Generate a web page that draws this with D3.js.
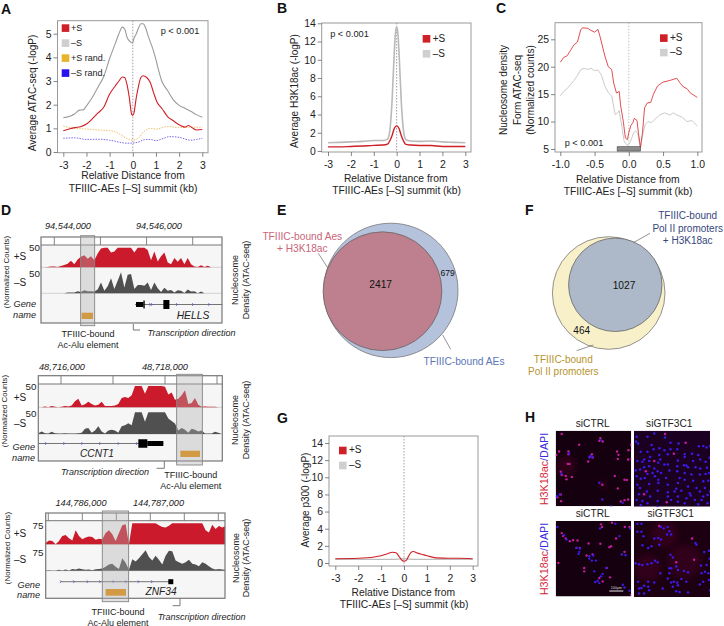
<!DOCTYPE html>
<html>
<head>
<meta charset="utf-8">
<script src="https://cdn.jsdelivr.net/npm/d3@7"></script>
<style>
body{margin:0;background:#fff;}
svg{display:block;font-family:"Liberation Sans",Arial,sans-serif;fill:#222;}
</style>
</head>
<body>
<div id="fig"></div>
<script>
// panel A, x in kb
const aGrayX = [-3,-2.75,-2.5,-2.3,-2.15,-2,-1.75,-1.5,-1.25,-1,-0.75,-0.6,-0.45,-0.35,-0.25,-0.1,-0.02,0.05,0.15,0.25,0.35,0.45,0.55,0.7,0.85,1,1.1,1.25,1.5,1.75,2,2.25,2.5,2.75,3];
const aGrayY = [1.45,1.5,1.62,1.77,1.78,1.95,2.3,2.75,3.2,3.95,4.6,5,5.28,5.2,4.85,4.65,4.6,4.8,5,5.25,5.42,5.42,5.25,4.8,4.4,3.9,3.5,3,2.6,2.2,1.97,1.85,1.72,1.58,1.47];
const aRedX = [-3,-2.75,-2.5,-2.25,-2,-1.75,-1.5,-1.25,-1,-0.75,-0.6,-0.45,-0.35,-0.25,-0.15,-0.05,0,0.05,0.15,0.25,0.35,0.45,0.6,0.75,0.9,1.05,1.25,1.5,1.75,2,2.25,2.4,2.6,2.75,3];
const aRedY = [0.9,0.97,1.03,1.07,1.18,1.4,1.65,1.9,2.45,2.8,3,3.17,3.15,2.85,2.3,1.6,1.55,1.65,2.3,2.8,3.15,3.22,3.15,2.95,2.5,2.1,1.85,1.5,1.32,1.15,1.05,1.12,1,0.93,0.95];
const aOrangeX = [-3,-2.5,-2,-1.5,-1,-0.75,-0.5,-0.25,0,0.25,0.5,0.75,1,1.5,2,2.5,3];
const aOrangeY = [1.1,1,0.97,0.93,0.9,0.85,0.72,0.57,0.5,0.6,0.88,1,0.97,1.08,1.03,1.05,1.05];
const aBlueX = [-3,-2.5,-2,-1.5,-1,-0.5,-0.25,0,0.25,0.5,0.75,1,1.25,1.6,2,2.5,2.75,3];
const aBlueY = [0.58,0.6,0.53,0.54,0.5,0.4,0.37,0.38,0.42,0.52,0.53,0.48,0.55,0.65,0.62,0.5,0.53,0.58];

// panel B
const bGrayX = [-3,-2.5,-2,-1.5,-1,-0.6,-0.4,-0.3,-0.2,-0.1,-0.05,0,0.05,0.1,0.2,0.3,0.4,0.6,1,1.5,2,2.5,3];
const bGrayY = [0.9,0.95,1,1.05,1.15,1.15,1.3,2.2,5.5,11,13,13.6,13,11,5.5,2.2,1.25,1.1,1.05,1.1,1,0.95,0.9];
const bRedX = [-3,-2.5,-2,-1.5,-1,-0.6,-0.4,-0.3,-0.2,-0.1,0,0.1,0.2,0.3,0.4,0.6,1,1.5,2,2.5,3];
const bRedY = [0.45,0.45,0.5,0.55,0.62,0.65,0.75,1.1,1.7,2.5,2.75,2.5,1.7,1.1,0.72,0.65,0.6,0.6,0.5,0.5,0.5];

// panel C
const cRedX = [-1,-0.95,-0.9,-0.85,-0.8,-0.75,-0.7,-0.67,-0.6,-0.55,-0.5,-0.45,-0.42,-0.35,-0.3,-0.25,-0.22,-0.18,-0.14,-0.12,-0.08,-0.05,-0.02,0,0.03,0.06,0.08,0.12,0.14,0.17,0.2,0.23,0.27,0.32,0.36,0.42,0.5,0.6,0.7,0.75,0.8,0.85,0.9,0.95,1];
const cRedY = [20.8,21.7,22,23,24,24.5,26.8,27.1,27,26.6,26.3,26.8,25.5,22,20,19.5,17,15.2,15.5,13,10,7,6.7,8,9.3,9.8,10.6,10.2,8,5.3,8,12.5,13.4,13.5,15,16.5,17.2,17.5,17.9,17,16.3,16,15.2,14.8,14.4];
const cGrayX = [-1,-0.95,-0.9,-0.85,-0.8,-0.75,-0.7,-0.65,-0.6,-0.55,-0.5,-0.45,-0.4,-0.35,-0.3,-0.25,-0.2,-0.17,-0.14,-0.1,-0.07,-0.03,0,0.03,0.07,0.1,0.13,0.17,0.2,0.24,0.28,0.33,0.38,0.45,0.52,0.6,0.65,0.7,0.78,0.85,0.92,1];
const cGrayY = [14.7,15.5,16,16.8,17.5,18.4,19.5,19.7,19.5,19.7,19.3,19.4,18.5,16.5,15.3,14.7,11.3,11.5,12,9,6.5,5.7,5.8,6.5,8,8.3,7.8,5.1,7.5,9.5,10,9.8,10.4,11.2,11.6,11.2,11.6,11.2,10.8,10,10.2,9.2];
const cBarExtent = [-0.17,0.17];

// panel G
const gRedX = [-3,-2,-1.3,-1,-0.75,-0.5,-0.35,-0.2,-0.1,0,0.1,0.2,0.3,0.4,0.6,0.8,1,1.4,2,2.4,3];
const gRedY = [0.5,0.55,0.7,0.85,1.05,1.25,1.2,0.7,0.35,0.2,0.3,0.8,1.2,1.35,1.15,1,0.85,0.6,0.55,0.55,0.5];
const gGrayX = [-3,-1.5,-0.5,0,0.5,1.5,3];
const gGrayY = [0.42,0.42,0.42,0.5,0.42,0.42,0.42];

// panel D tracks, one value per bin, 50/75 is the track top
const d1Bin = {start:94543711, step:72.3};
const d1Plus = [0,0,1,2,2,1,3,6,9,17,8,20,27,31,22,28,18,35,48,50,50,38,40,50,50,50,50,50,38,50,50,50,44,18,40,15,28,38,12,8,24,14,24,8,24,8,2,1,5,1,4,0,0,0,0];
const d1Minus = [0,0,0,0,0,0,0,0,2,2,2,5,3,7,5,5,4,9,26,6,17,36,10,30,50,14,44,46,10,20,20,18,26,8,26,12,3,13,6,8,2,7,6,1,9,4,5,0,4,0,0,0,0,0,0];
const d2Bin = {start:48715564, step:64.1};
const d2Plus = [0,0,2,0,3,1,0,1,3,2,4,14,20,4,7,13,8,4,6,13,3,3,3,4,8,22,24,22,28,50,50,50,32,50,50,50,50,50,48,30,35,18,20,28,40,8,10,22,6,1,2,1,1,1,0,0];
const d2Minus = [2,6,2,1,5,2,1,1,2,1,1,1,2,3,12,14,3,8,18,6,1,8,10,8,3,18,20,25,20,50,50,50,28,50,50,50,50,50,50,36,30,24,8,14,10,3,12,10,6,8,1,1,1,5,3,0];
const d3Bin = {start:144785461, step:49};
const d3Plus = [5,14,12,0,12,30,33,22,14,50,30,18,24,28,26,16,20,18,40,50,36,12,40,68,72,0,75,75,75,75,75,75,75,75,68,62,60,66,75,75,75,75,75,75,75,75,75,75,50,42,70,55,65,60,65];
const d3Minus = [1,2,1,1,3,1,4,1,6,4,8,5,3,4,2,5,6,8,14,22,24,14,6,44,28,3,40,32,44,58,72,48,36,52,38,22,52,70,68,36,30,24,30,38,24,22,16,30,24,16,8,4,6,4,3];

const d1Ticks = [94544000,94545000,94546000,94547000];
const d2Ticks = [48716000,48717000,48718000,48719000];
const d3Ticks = [144785500,144786000,144786500,144787000,144787500,144788000];

// panel E and F counts
const eCounts = {inner:2417, only:679};
const fCounts = {inner:1027, only:464};

// panel H, cell positions in the 225 px crop of each image
const hCtrl1Mag = [[18,10],[70,42],[133,22],[130,30],[140,32],[10,62],[2,72],[38,62],[38,70],[183,62],[187,72],[185,84],[217,58],[225,42],[228,52],[216,86],[226,84],[97,92],[108,70],[102,78],[110,80],[36,99],[41,99],[15,122],[18,132],[30,135],[32,145],[48,138],[176,135],[205,146],[212,147],[139,161],[185,172],[15,190],[5,198],[16,210],[194,211],[205,207],[216,205]];
const hCtrl1Blue = [[104,75],[100,80],[110,78],[130,155],[139,205],[200,215],[165,226],[12,190],[3,195],[135,28],[40,68],[17,128]];
const hCtrl1Glow = [[30,105,32],[140,160,14]];
const hSi1Blue = [[8,18],[6,32],[12,38],[40,18],[60,8],[92,20],[108,36],[132,38],[58,55],[52,42],[75,52],[90,58],[108,55],[40,62],[20,62],[128,55],[205,45],[215,50],[225,45],[192,46],[150,70],[172,68],[190,72],[75,72],[78,85],[100,70],[48,78],[30,85],[10,90],[25,92],[45,90],[72,95],[90,100],[100,100],[130,88],[150,78],[175,90],[196,85],[212,92],[224,80],[128,105],[148,102],[155,103],[160,108],[182,108],[196,112],[216,110],[5,118],[18,115],[30,108],[45,105],[60,112],[40,128],[55,125],[70,120],[80,125],[105,118],[128,120],[150,125],[170,130],[195,130],[212,128],[222,125],[8,135],[20,142],[32,140],[62,135],[72,145],[95,140],[135,140],[130,155],[150,145],[175,148],[205,150],[220,148],[10,160],[45,158],[72,155],[100,160],[125,172],[160,165],[185,170],[210,170],[18,170],[38,180],[70,178],[100,182],[120,180],[140,178],[165,185],[168,192],[195,180],[15,188],[48,195],[100,195],[130,195],[155,200],[205,195],[218,190],[225,180],[8,205],[25,208],[70,208],[110,205],[130,210],[180,205],[200,205],[218,215],[70,225],[150,215],[20,220],[40,215],[190,218]];
const hSi1Mag = [[92,10],[153,36],[118,68],[60,90],[35,120],[30,188],[97,212]];
const hCtrl2Mag = [[18,36],[22,45],[30,52],[42,60],[52,57],[65,58],[98,67],[133,68],[180,52],[165,75],[160,78],[205,92],[92,103],[135,10],[138,18],[168,5],[206,18],[220,18],[8,125],[85,140],[85,150],[110,100],[162,168],[130,170],[140,180],[152,140],[225,220],[62,80],[72,80]];
const hCtrl2Blue = [[132,22],[178,8],[25,42],[32,55],[62,80],[70,92],[68,98],[100,105],[108,118],[120,118],[112,103],[135,165],[125,178],[118,182],[130,185],[115,150],[140,158],[200,190],[205,198],[190,45],[197,100],[208,102],[222,22],[5,18],[220,208],[150,140],[72,82],[100,112]];
const hSi2Blue = [[10,32],[22,32],[28,45],[10,8],[22,8],[80,18],[88,22],[100,18],[105,30],[98,40],[110,40],[60,52],[72,50],[80,55],[75,70],[25,72],[42,80],[52,75],[108,100],[115,108],[182,65],[185,70],[208,92],[222,88],[224,112],[5,125],[15,128],[25,130],[40,128],[52,125],[62,118],[70,122],[78,155],[105,140],[110,140],[125,135],[130,145],[148,148],[160,152],[198,132],[215,130],[220,155],[210,150],[200,155],[222,175],[205,180],[195,188],[105,155],[110,182],[118,180],[140,172],[128,182],[155,180],[130,190],[115,195],[100,170],[12,180],[42,180],[60,182],[30,192],[22,198],[15,200],[42,195],[85,200],[125,208],[135,210],[160,212],[30,215],[15,215],[45,205],[225,205]];
const hSi2Mag = [[75,15],[178,115],[125,122],[172,52]];
const hSi2Glow = [[90,40,40],[150,120,50],[40,140,40]];

const RED = "#cf1f27", LIGHT = "#cfcfcf", FRAME = "#9a9a9a";

const svg = d3.select("#fig").append("svg").attr("width",724).attr("height",626);

function label(t,x,y,opt){
    opt = opt || {};
    const el = svg.append("text").attr("x",x).attr("y",y)
        .attr("text-anchor",opt.anchor || "middle")
        .style("font-size",(opt.size || 10.3)+"px")
        .style("fill",opt.color || "#222")
        .style("font-style",opt.italic ? "italic" : "normal")
        .style("font-weight",opt.bold ? "bold" : "normal")
        .text(t);
    if(opt.rotate) el.attr("transform",`rotate(-90,${x},${y})`);
    return el;
}

function toLine(xs,ys){ return xs.map((x,i)=>[x,ys[i]]); }
// the figure prints a plain hyphen on negative ticks
const hyphenFormat = f => (d => d3.format(f)(d).replace("−","-"));

function linePanel(p){
    const xScale = d3.scaleLinear().domain(p.xDomain).range(p.xRange);
    const yScale = d3.scaleLinear().domain(p.yDomain).range(p.yRange);
    const g = svg.append("g");

    g.append("line").attr("x1",xScale(0)).attr("x2",xScale(0))
        .attr("y1",p.frame[1]).attr("y2",p.frame[3])
        .attr("stroke",p.zeroColor || "#777").attr("stroke-width",0.7).attr("stroke-dasharray","1.5,1.5");

    const line = d3.line().x(d=>xScale(d[0])).y(d=>yScale(d[1]));
    p.series.forEach(s=>{
        line.curve(s.curve || d3.curveMonotoneX);
        g.append("path").attr("d",line(s.data)).attr("fill","none")
            .attr("stroke",s.color).attr("stroke-width",s.width)
            .attr("stroke-dasharray",s.dash || null);
    });

    g.append("rect").attr("x",p.frame[0]).attr("y",p.frame[1])
        .attr("width",p.frame[2]-p.frame[0]).attr("height",p.frame[3]-p.frame[1])
        .attr("fill","none").attr("stroke",FRAME).attr("stroke-width",1);

    const xAxis = d3.axisBottom(xScale).tickValues(p.xTicks).tickFormat(hyphenFormat(p.xFormat || "d")).tickSize(4).tickPadding(p.xPad || 5);
    const yAxis = d3.axisLeft(yScale).tickValues(p.yTicks).tickFormat(d3.format("d")).tickSize(4).tickPadding(2);
    [g.append("g").attr("transform",`translate(0,${p.frame[3]})`).call(xAxis),
     g.append("g").attr("transform",`translate(${p.frame[0]},0)`).call(yAxis)].forEach(a=>{
        a.select(".domain").remove();
        a.selectAll("line").attr("stroke","#666").attr("stroke-width",0.8);
        a.selectAll("text").style("font-size","10.4px").style("fill","#222").style("font-family","Liberation Sans");
    });
    return {g,xScale,yScale};
}

function legend(rows,x,y,step,textX){
    rows.forEach((r,i)=>{
        svg.append("rect").attr("x",x).attr("y",y+i*step).attr("width",7.6).attr("height",7.6).attr("fill",r[1]);
        label(r[0],textX,y+i*step+6.6,{anchor:"start",size:r[2] || 10});
    });
}

// ---- A
linePanel({
    xDomain:[-3,3], xRange:[63.3,202.3], yDomain:[0,5], yRange:[152,33.7],
    frame:[57.5,20.7,208,152.7], xTicks:[-3,-2,-1,0,1,2,3], yTicks:[0,1,2,3,4,5],
    series:[
        {data:toLine(aOrangeX,aOrangeY),color:"#e8b04a",width:0.8,dash:"1.5,1.2"},
        {data:toLine(aBlueX,aBlueY),color:"#5a45e0",width:0.8,dash:"1.5,1.2"},
        {data:toLine(aGrayX,aGrayY),color:"#9b9b9b",width:1.1},
        {data:toLine(aRedX,aRedY),color:RED,width:1.1}
    ]
});
legend([["+S",RED,9],["–S",LIGHT,9],["+S rand.","#e8b32e",9],["–S rand.","#2a12f0",9]],61.7,24.3,15,71);
label("p < 0.001",180,34,{size:9.2});
label("Average ATAC-seq (-logP)",35.5,93,{rotate:true,size:10});
label("Relative Distance from",133,179);
label("TFIIIC-AEs [–S] summit (kb)",133,191.7);

// ---- B
linePanel({
    xDomain:[-3,3], xRange:[328,465.3], yDomain:[0,14], yRange:[151,23.3],
    frame:[321.7,23,471,152], xTicks:[-3,-2,-1,0,1,2,3], yTicks:[0,2,4,6,8,10,12,14],
    series:[
        {data:toLine(bGrayX,bGrayY),color:"#b9b9b9",width:1.6},
        {data:toLine(bRedX,bRedY),color:RED,width:1.4}
    ]
});
legend([["+S",RED],["–S",LIGHT]],422.7,35,15,432.7);
label("p < 0.001",349.5,37,{size:9.2});
label("Average H3K18ac (-logP)",297.5,91,{rotate:true,size:10});
label("Relative Distance from",395.7,181.7);
label("TFIIIC-AEs [–S] summit (kb)",396.5,194);

// ---- C
const cPanel = linePanel({
    xDomain:[-1,1], xRange:[560.3,697.3], yDomain:[5,25], yRange:[149,39.3],
    frame:[555,22.7,702,152], xTicks:[-1,-0.5,0,0.5,1], yTicks:[5,10,15,20,25],
    xFormat:".1f", zeroColor:"#aaa",
    series:[
        {data:toLine(cGrayX,cGrayY),color:"#c4c4c4",width:0.9,curve:d3.curveLinear},
        {data:toLine(cRedX,cRedY),color:"#dd3a3f",width:0.9,curve:d3.curveLinear}
    ]
});
cPanel.g.append("rect").attr("x",cPanel.xScale(cBarExtent[0])).attr("y",146.7)
    .attr("width",cPanel.xScale(cBarExtent[1])-cPanel.xScale(cBarExtent[0])).attr("height",4.4)
    .attr("fill","#8a8a8a").attr("stroke","#444").attr("stroke-width",0.6);
legend([["+S",RED],["–S",LIGHT]],660,34.3,14.5,670);
label("p < 0.001",584,146,{size:9.2});
label("Nucleosome density",507,90,{rotate:true,size:10});
label("Form ATAC-seq",520.5,90,{rotate:true,size:10});
label("(Normalized counts)",533.5,90,{rotate:true,size:10});
label("Relative Distance from",627.7,182.7);
label("TFIIIC-AEs [–S] summit (kb)",628,195);

// ---- G
linePanel({
    xDomain:[-3,3], xRange:[335.3,472.7], yDomain:[0,14], yRange:[563,443],
    frame:[329,436,478,566], xTicks:[-3,-2,-1,0,1,2,3], yTicks:[0,2,4,6,8,10,12,14],
    series:[
        {data:toLine(gGrayX,gGrayY),color:"#bdbdbd",width:1.2},
        {data:toLine(gRedX,gRedY),color:RED,width:1.1}
    ]
});
legend([["+S",RED],["–S",LIGHT]],339,446.7,15,349);
label("Average p300 (-logP)",308.5,500,{rotate:true,size:10});
label("Relative Distance from",403.3,595.7);
label("TFIIIC-AEs [–S] summit (kb)",404,608.3);

// ---- D
function trackPanel(p){
    const x = d3.scaleLinear().domain(p.xDomain).range(p.xRange);
    const g = svg.append("g");
    g.append("rect").attr("x",p.frame[0]).attr("y",p.frame[1])
        .attr("width",p.frame[2]-p.frame[0]).attr("height",p.frame[3]-p.frame[1]).attr("fill","#f6f6f6");
    g.append("rect").attr("x",p.frame[0]).attr("y",p.frame[1])
        .attr("width",p.frame[2]-p.frame[0]).attr("height",p.rulerY-p.frame[1]).attr("fill","#fff");

    const clipId = "clip"+p.id;
    svg.append("clipPath").attr("id",clipId).append("rect").attr("x",p.frame[0]).attr("y",p.frame[1])
        .attr("width",p.frame[2]-p.frame[0]).attr("height",p.frame[3]-p.frame[1]);

    p.tracks.forEach(t=>{
        const y = d3.scaleLinear().domain([0,p.maxVal]).range(t.range);
        const area = d3.area().x((d,i)=>x(p.bin.start+i*p.bin.step)).y0(t.range[0]).y1(d=>y(d));
        g.append("line").attr("x1",p.frame[0]).attr("x2",p.frame[2]).attr("y1",t.range[0]).attr("y2",t.range[0])
            .attr("stroke","#c8c8c8").attr("stroke-width",0.8);
        g.append("path").attr("d",area(t.values)).attr("fill",t.color).attr("clip-path",`url(#${clipId})`);
    });

    // gene model
    const gy = p.geneY;
    g.append("line").attr("x1",x(p.gene.line[0])).attr("x2",x(p.gene.line[1])).attr("y1",gy).attr("y2",gy)
        .attr("stroke","#666").attr("stroke-width",0.9);
    p.gene.chevrons.forEach(c=>{
        g.append("path").attr("d",`M${x(c)-0.7},${gy-1.4}L${x(c)+0.7},${gy}L${x(c)-0.7},${gy+1.4}`)
            .attr("fill","none").attr("stroke","#4a3fd8").attr("stroke-width",0.7);
    });
    p.gene.exons.forEach(e=>{
        g.append("rect").attr("x",x(e[0])).attr("width",x(e[1])-x(e[0]))
            .attr("y",gy-e[2]/2).attr("height",e[2]).attr("fill","#000");
    });

    // ruler
    g.append("line").attr("x1",p.frame[0]).attr("x2",p.frame[2]).attr("y1",p.rulerY).attr("y2",p.rulerY)
        .attr("stroke","#777").attr("stroke-width",1);
    p.ticks.forEach(t=>{
        g.append("line").attr("x1",x(t)).attr("x2",x(t)).attr("y1",p.frame[1]).attr("y2",p.rulerY)
            .attr("stroke","#777").attr("stroke-width",0.9);
    });

    g.append("rect").attr("x",p.frame[0]).attr("y",p.frame[1])
        .attr("width",p.frame[2]-p.frame[0]).attr("height",p.frame[3]-p.frame[1])
        .attr("fill","none").attr("stroke","#777").attr("stroke-width",1.2);

    // highlighted element
    g.append("rect").attr("x",x(p.band[0])).attr("width",x(p.band[1])-x(p.band[0]))
        .attr("y",p.bandY[0]).attr("height",p.bandY[1]-p.bandY[0])
        .attr("fill","#b0b0b0").attr("fill-opacity",0.38).attr("stroke","#858585").attr("stroke-width",0.9);
    g.append("rect").attr("x",x(p.element[0])).attr("width",x(p.element[1])-x(p.element[0]))
        .attr("y",p.elementY[0]).attr("height",p.elementY[1]-p.elementY[0]).attr("fill","#d29a45");

    // elbow
    g.append("path").attr("d",d3.line()(p.elbow)).attr("fill","none").attr("stroke","#777").attr("stroke-width",1);
}

trackPanel({
    id:"d1", xDomain:[94544000,94547000], xRange:[54.3,192.7], frame:[41,237,222,323], rulerY:245,
    bin:d1Bin, maxVal:50, ticks:d1Ticks,
    tracks:[{values:d1Plus,color:"#cb1a2b",range:[267.3,247.7]},{values:d1Minus,color:"#505050",range:[293.3,272.3]}],
    geneY:304.5,
    gene:{line:[94545750,94547644],
        exons:[[94545771,94545931,5],[94545931,94545960,8],[94546364,94546495,9]],
        chevrons:[94546075,94546111,94546654,94547001,94547355]},
    band:[94544571,94544875], bandY:[235.7,325.7],
    element:[94544593,94544839], elementY:[312.7,319],
    elbow:[[133.3,324],[133.3,330],[140,330]]
});
trackPanel({
    id:"d2", xDomain:[48716000,48719000], xRange:[61,217], frame:[38.3,375.7,222.3,461], rulerY:384,
    bin:d2Bin, maxVal:50, ticks:d2Ticks,
    tracks:[{values:d2Plus,color:"#cb1a2b",range:[407.3,386]},{values:d2Minus,color:"#505050",range:[434,412.3]}],
    geneY:443.5,
    gene:{line:[48715564,48717968],
        exons:[[48717487,48717660,8.5],[48717660,48717968,5]],
        chevrons:[48715705,48716058,48716404,48716750,48717103,48717455]},
    band:[48718224,48718718], bandY:[374.3,465],
    element:[48718295,48718673], elementY:[450.7,457],
    elbow:[[164.3,461],[164.3,468.3],[156.7,468.3]]
});
trackPanel({
    id:"d3", xDomain:[144786000,144787000], xRange:[82.3,150.3], frame:[45.7,513,225,598.3], rulerY:520.7,
    bin:d3Bin, maxVal:75, ticks:d3Ticks,
    tracks:[{values:d3Plus,color:"#cb1a2b",range:[544.3,523.3]},{values:d3Minus,color:"#505050",range:[570.7,549.3]}],
    geneY:581.7,
    gene:{line:[144785681,144787289],
        exons:[[144787265,144787338,5]],
        chevrons:[144785681,144785877,144786074,144786260,144786456,144786642,144786824,144787020]},
    band:[144786294,144786681], bandY:[511,601.7],
    element:[144786343,144786642], elementY:[589,595.7],
    elbow:[[180,598.3],[180,605.7],[172.7,605.7]]
});

const itOpt = {italic:true,size:9.2};
label("94,544,000",68,228.5,itOpt);
label("94,546,000",159,228.5,itOpt);
label("48,716,000",62,370,itOpt);
label("48,718,000",165,370,itOpt);
label("144,786,000",81,506,itOpt);
label("144,787,000",158.5,506,itOpt);

const sideRows = [
    {cx:6,cy:272,plus:[20,260],val:"50",vx:[34.5,251],minus:[20,286],vb:[34.5,277],gx:36,g1:306.5,g2:318},
    {cx:4.5,cy:411,plus:[20,401],val:"50",vx:[31,390],minus:[20,427],vb:[31,417],gx:35,g1:450,g2:461},
    {cx:7,cy:548,plus:[20,537],val:"75",vx:[38,529],minus:[20,563],vb:[38,555.5],gx:40,g1:587.5,g2:598}
];
sideRows.forEach(r=>{
    label("(Normalized Counts)",r.cx+2.5,r.cy,{rotate:true,size:7.9});
    label("+S",r.plus[0],r.plus[1],{size:10});
    label("–S",r.minus[0],r.minus[1],{size:10});
    label(r.val,r.vx[0],r.vx[1],{size:9.8});
    label(r.val,r.vb[0],r.vb[1],{size:9.8});
    label("Gene",r.gx,r.g1,{anchor:"end",italic:true,size:9.2});
    label("name",r.gx,r.g2,{anchor:"end",italic:true,size:9.2});
});
[[238,249,280],[238,249,420],[239,249,558]].forEach(c=>{
    label("Nucleosome",c[0],c[2],{rotate:true,size:9});
    label("Density (ATAC-seq)",c[1],c[2],{rotate:true,size:9});
});
label("HELLS",193,319,{italic:true,size:10.3});
label("CCNT1",97,456.7,{italic:true,size:10.2});
label("ZNF34",161,595,{italic:true,size:10.2});

label("TFIIIC-bound",88,337,{size:9});
label("Ac-Alu element",88,348,{size:9});
label("Transcription direction",191.5,336,{italic:true,size:9});
label("Transcription direction",105,475,{italic:true,size:9});
label("TFIIIC-bound",190.7,478,{size:9});
label("Ac-Alu element",190.7,489,{size:9});
label("TFIIIC-bound",118,615,{size:9});
label("Ac-Alu element",118,625.5,{size:9});
label("Transcription direction",201.7,620,{italic:true,size:9});

// ---- E, F
function venn(p){
    const r = d3.scaleSqrt().domain([0,p.counts.inner+p.counts.only]).range([0,p.outerR]);
    svg.append("circle").attr("cx",p.outer[0]).attr("cy",p.outer[1]).attr("r",r(p.counts.inner+p.counts.only))
        .attr("fill",p.outerFill).attr("stroke","#777").attr("stroke-width",0.8);
    svg.append("circle").attr("cx",p.inner[0]).attr("cy",p.inner[1]).attr("r",r(p.counts.inner))
        .attr("fill",p.innerFill).attr("stroke","#666").attr("stroke-width",0.8);
    label(p.counts.inner,p.innerLabel[0],p.innerLabel[1],{size:10.2,color:"#111"});
    label(p.counts.only,p.onlyLabel[0],p.onlyLabel[1],{size:p.onlySize,color:"#111"});
}
venn({counts:eCounts,outerR:67.2,outer:[390.8,290.4],inner:[382.5,291.2],outerFill:"#b5c2db",innerFill:"#be808f",innerLabel:[380.7,288],onlyLabel:[447.7,276],onlySize:8.6});
venn({counts:fCounts,outerR:56.3,outer:[608.7,293],inner:[615.3,284.8],outerFill:"#f8f0c9",innerFill:"#adb9c8",innerLabel:[624,289.3],onlyLabel:[581.7,334],onlySize:10});

[[318.3,253.3,327.7,267.7],[442.7,335,450.7,349.3],[633.3,242.7,650,233.3],[576.7,350.7,593.3,345]].forEach(l=>{
    svg.append("line").attr("x1",l[0]).attr("y1",l[1]).attr("x2",l[2]).attr("y2",l[3])
        .attr("stroke","#666").attr("stroke-width",0.7);
});
label("TFIIIC-bound Aes",302.3,239.5,{color:"#c9667a",size:10.2});
label("+ H3K18ac",302.3,251.7,{color:"#c9667a",size:10.2});
label("TFIIIC-bound AEs",464,365,{color:"#5c76b8",size:10.2});
label("TFIIIC-bound",687.7,219,{color:"#36477c",size:10});
label("Pol II promoters",687.7,231.7,{color:"#36477c",size:10});
label("+ H3K18ac",687.7,244.3,{color:"#36477c",size:10});
label("TFIIIC-bound",563.3,362.7,{color:"#b6952e",size:10});
label("Pol II promoters",563.3,375,{color:"#b6952e",size:10});

// ---- H
const defs = svg.append("defs");
defs.append("filter").attr("id","soft").append("feGaussianBlur").attr("stdDeviation",0.3);
defs.append("filter").attr("id","glow").append("feGaussianBlur").attr("stdDeviation",3);
defs.append("clipPath").attr("id","noclip");

function cellImage(id,x0,y0,w,mag,blue,r,back,glow){
    const xs = d3.scaleLinear().domain([0,225]).range([x0,x0+w]);
    const ys = d3.scaleLinear().domain([0,225]).range([y0,y0+w]);
    svg.append("clipPath").attr("id",id).append("rect").attr("x",x0).attr("y",y0).attr("width",w).attr("height",w);
    const g = svg.append("g").attr("clip-path",`url(#${id})`);
    g.append("rect").attr("x",x0).attr("y",y0).attr("width",w).attr("height",w).attr("fill",back);
    g.selectAll(".glow").data(glow).join("circle").attr("class","glow")
        .attr("cx",d=>xs(d[0])).attr("cy",d=>ys(d[1])).attr("r",d=>d[2]*w/225)
        .attr("fill","#4a0020").attr("fill-opacity",0.45).attr("filter","url(#glow)");
    const cells = g.append("g").attr("filter","url(#soft)");
    cells.selectAll(".mag").data(mag).join("circle").attr("class","mag")
        .attr("cx",d=>xs(d[0])).attr("cy",d=>ys(d[1])).attr("r",r).attr("fill","#c41c9c");
    cells.selectAll(".blu").data(blue).join("circle").attr("class","blu")
        .attr("cx",d=>xs(d[0])).attr("cy",d=>ys(d[1])).attr("r",r).attr("fill","#3a1ae6");
}
cellImage("imgA",555.7,430.7,75.5,hCtrl1Mag,hCtrl1Blue,1.2,"#14000e",hCtrl1Glow);
cellImage("imgB",634,430.7,76,hSi1Mag,hSi1Blue,1.25,"#1c0022",[]);
cellImage("imgC",555.7,521,75.5,hCtrl2Mag,hCtrl2Blue,1.2,"#14000e",[]);
cellImage("imgD",634,521,76,hSi2Mag,hSi2Blue,1.25,"#1c0012",hSi2Glow);
svg.append("line").attr("x1",609.3).attr("x2",623.3).attr("y1",591).attr("y2",591).attr("stroke","#fff").attr("stroke-width",0.9);
label("100µm",616.3,589.3,{size:3.6,color:"#ddd"});

label("siCTRL",592.7,426.7,{size:10.2});
label("siGTF3C1",669.3,426.7,{size:10.2});
label("siCTRL",592.7,516.7,{size:10.2});
label("siGTF3C1",670.7,516.7,{size:10.2});
[469,559].forEach(cy=>{
    const t = label("",547.5,cy,{rotate:true,size:10.8});
    t.append("tspan").style("fill","#d41f3a").text("H3K18ac");
    t.append("tspan").style("fill","#3a2ae0").text("/DAPI");
});

// panel letters
[["A",1,13.5],["B",277,13],["C",496,13],["D",1,215],["E",277,215],["F",525,215],["G",277,423],["H",525,421.7]].forEach(d=>{
    label(d[0],d[1],d[2],{anchor:"start",bold:true,size:14,color:"#111"});
});
</script>
</body>
</html>
